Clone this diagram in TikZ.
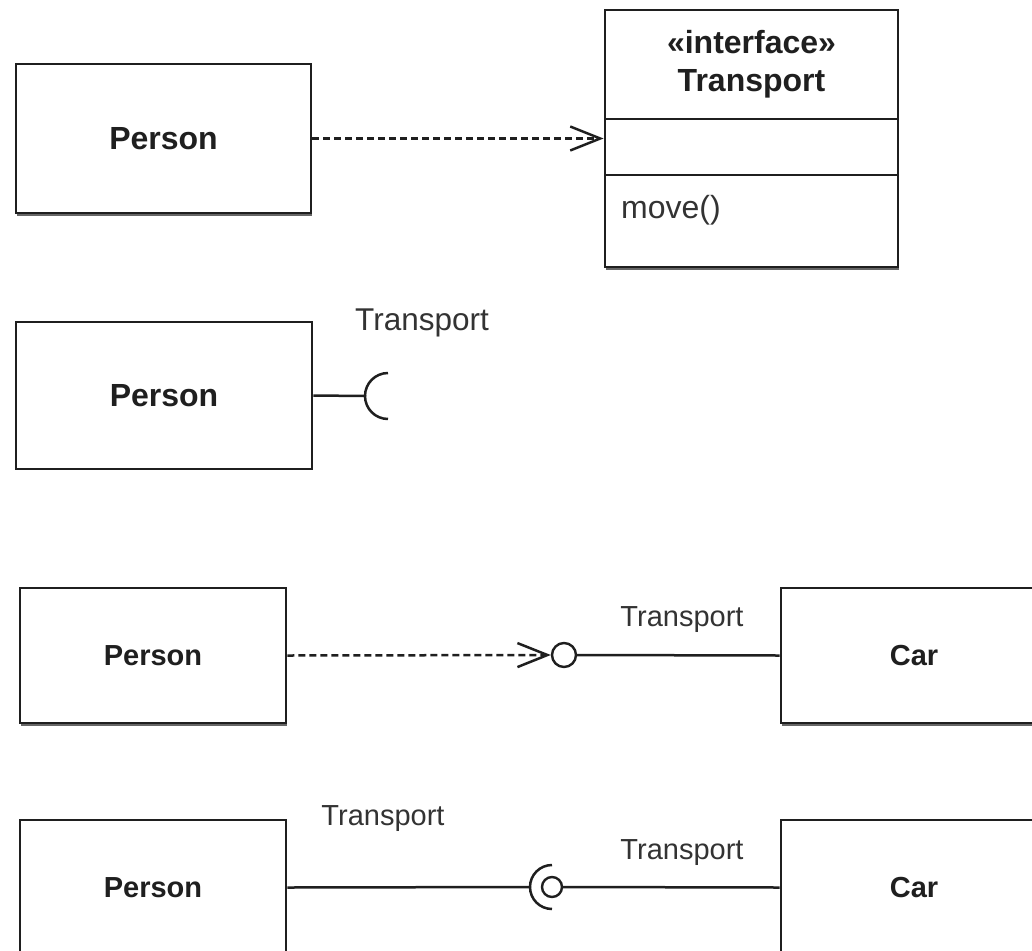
\documentclass[tikz,border=0pt]{standalone}
\usepackage{fontspec}
\setmainfont{Liberation Sans}
\usetikzlibrary{arrows.meta,shadows}
\begin{document}
\begin{tikzpicture}[x=1pt,y=-1pt,
  ink/.style={draw=black!88},
  shade/.style={drop shadow={shadow xshift=0.6pt,shadow yshift=-3pt,fill=black!60,opacity=1}},
  classbox/.style={ink,line width=2.8pt,fill=white,rectangle,inner sep=0pt,text=black!88},
  bigname/.style={font=\fontsize{32}{38}\selectfont\bfseries},
  smallname/.style={font=\fontsize{29}{35}\selectfont\bfseries},
  lbl/.style={inner sep=0pt,text=black!80},
  conn/.style={ink,line width=2.5pt},
  dep/.style={conn,dash pattern=on 7pt off 4pt,-{Straight Barb[length=30pt,width=24pt]}},
  ball/.style={circle,ink,line width=2.4pt,fill=white,inner sep=0pt}
]
\useasboundingbox (0,0) rectangle (1032,950);
\clip (0,0) rectangle (1032,950);

% --- dependency on an interface drawn as a class
\node[classbox,shade,bigname,minimum width=295pt,minimum height=149pt] (person1) at (163.5,138.5) {Person};
\node[classbox,shade,minimum width=293pt,minimum height=92pt] (ifops) at (751.5,221) {};
\node[classbox,minimum width=293pt,minimum height=56pt] (ifattr) at (751.5,147) {};
\node[classbox,minimum width=293pt,minimum height=109pt,bigname,align=center] (ifhead) at (751.5,64.5) {«interface»\\Transport};
\node[lbl,anchor=west,font=\fontsize{32}{38}\selectfont] (op) at (621,210) {move()};
\draw[dep] (person1.east) -- (person1.east -| ifattr.west);

% --- required interface (socket)
\node[classbox,bigname,minimum width=296pt,minimum height=147pt] (person2) at (164,395.5) {Person};
\coordinate (sock2) at (388,396);
\draw[conn] (person2.east) -- ([xshift=-23pt]sock2) arc[start angle=180,end angle=90,radius=23];
\draw[conn] ([xshift=-23pt]sock2) arc[start angle=180,end angle=270,radius=23];
\node[lbl,font=\fontsize{31.5}{38}\selectfont] (t2) at (422,323) {Transport};

% --- dependency on a provided interface (ball)
\node[classbox,shade,smallname,minimum width=266pt,minimum height=135pt] (person3) at (153,655.5) {Person};
\node[classbox,shade,smallname,minimum width=266pt,minimum height=135pt] (car3) at (914,655.5) {Car};
\node[ball,minimum size=24pt] (ball3) at (564,655) {};
\draw[dep] (person3.east) -- (ball3.west);
\draw[conn] (ball3.east) -- (car3.west);
\node[lbl,font=\fontsize{29}{35}\selectfont] (t3) at (682,620) {Transport};

% --- assembly: socket around ball
\node[classbox,smallname,minimum width=266pt,minimum height=135pt] (person4) at (153,887.5) {Person};
\node[classbox,smallname,minimum width=266pt,minimum height=135pt] (car4) at (914,887.5) {Car};
\node[ball,minimum size=20pt] (ball4) at (552,887) {};
\coordinate (sock4) at (530,887);
\draw[conn] (person4.east) -- (sock4);
\draw[conn] (ball4.east) -- (car4.west);
\draw[conn] (sock4) arc[start angle=180,end angle=90,radius=22];
\draw[conn] (sock4) arc[start angle=180,end angle=270,radius=22];
\node[lbl,font=\fontsize{29}{35}\selectfont] (t4a) at (383,819) {Transport};
\node[lbl,font=\fontsize{29}{35}\selectfont] (t4b) at (682,853) {Transport};
\end{tikzpicture}
\end{document}
